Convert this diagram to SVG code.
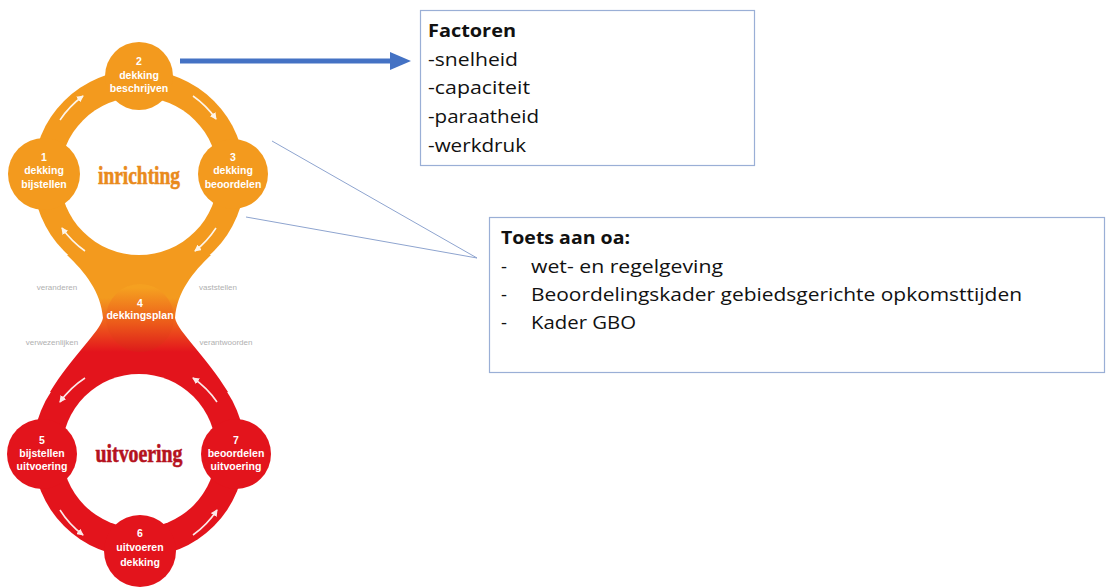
<svg xmlns="http://www.w3.org/2000/svg" width="1106" height="588" viewBox="0 0 1106 588">
<style>
.org{fill:#F39A1E}
.red{fill:#E3141C}
.nt{font-family:"Liberation Sans",Arial,sans-serif;font-weight:bold;font-size:10.5px;fill:#FFFFFF;text-anchor:middle}
.gl{font-family:"Liberation Sans",Arial,sans-serif;font-size:8px;fill:#B0B0B0;text-anchor:middle}
.big{font-family:"Liberation Serif","Times New Roman",serif;font-weight:bold;font-size:26px;text-anchor:middle;stroke-width:0.6}
.box{fill:#FFFFFF;stroke:#9AAFD6;stroke-width:1.2}
.bt{font-family:"Open Sans","Liberation Sans",sans-serif;font-size:18.5px;fill:#111111}
.bb{font-weight:bold}
.wa{fill:none;stroke:#FFFFFF;stroke-width:1.6;opacity:0.9;marker-end:url(#wh)}
.cl{stroke:#8EA4CF;stroke-width:1;fill:none}
</style>
<defs>
<marker id="wh" markerUnits="userSpaceOnUse" markerWidth="7" markerHeight="7" refX="6" refY="3.5" orient="auto">
<path d="M0,0 L7,3.5 L0,7 z" fill="#FFFFFF"/>
</marker>
<linearGradient id="grad" gradientUnits="userSpaceOnUse" x1="0" y1="298" x2="0" y2="352">
<stop offset="0" stop-color="#F39A1E"/>
<stop offset="0.5" stop-color="#EE5A1C"/>
<stop offset="1" stop-color="#E3141C"/>
</linearGradient>
<linearGradient id="grad4" gradientUnits="userSpaceOnUse" x1="0" y1="288" x2="0" y2="352">
<stop offset="0" stop-color="#F5A020"/>
<stop offset="0.55" stop-color="#EC5A1A"/>
<stop offset="1" stop-color="#DD1A1A"/>
</linearGradient>
</defs>

<g id="cycle-shape">
<circle class="org" cx="139" cy="176" r="106"/>
<circle class="red" cx="139" cy="451" r="106"/>
<path fill="url(#grad)" d="M67,255 C85,272 101,292 103,318 C100,332 72,356 50,392 L228,392 C206,356 178,332 175,318 C177,292 193,272 211,255 Z"/>
<circle fill="#FFFFFF" cx="139" cy="176" r="79"/>
<circle fill="#FFFFFF" cx="139" cy="451" r="77"/>
</g>

<g id="connectors">
<path class="wa" d="M60,120 A96 96 0 0 1 83,96"/>
<path class="wa" d="M193,96 A96 96 0 0 1 216,119"/>
<path class="wa" d="M216,228 A96 96 0 0 1 195,251"/>
<path class="wa" d="M85,251 A96 96 0 0 1 62,228"/>
<path class="wa" d="M85,378 A93 93 0 0 0 60,402"/>
<path class="wa" d="M217,402 A93 93 0 0 0 193,378"/>
<path class="wa" d="M60,510 A93 93 0 0 0 83,535"/>
<path class="wa" d="M193,535 A93 93 0 0 0 217,510"/>
<line x1="180" y1="61" x2="392" y2="61" stroke="#4472C4" stroke-width="5"/>
<polygon points="390,52 411,61 390,70" fill="#4472C4"/>
<line class="cl" x1="272" y1="141" x2="477" y2="258"/>
<line class="cl" x1="246" y1="217" x2="477" y2="258"/>
</g>

<g id="label-inrichting"><text class="big" x="139" y="184" fill="#E98A1C" stroke="#E98A1C" textLength="82" lengthAdjust="spacingAndGlyphs">inrichting</text></g>
<g id="label-uitvoering"><text class="big" x="139" y="462" fill="#B5121E" stroke="#B5121E" textLength="87" lengthAdjust="spacingAndGlyphs">uitvoering</text></g>

<g id="node1">
<circle class="org" cx="44" cy="174" r="36"/>
<text class="nt" x="44" y="161">1</text>
<text class="nt" x="44" y="174">dekking</text>
<text class="nt" x="44" y="188">bijstellen</text>
</g>
<g id="node2">
<circle class="org" cx="139" cy="76" r="34"/>
<text class="nt" x="139" y="65">2</text>
<text class="nt" x="139" y="79">dekking</text>
<text class="nt" x="139" y="92">beschrijven</text>
</g>
<g id="node3">
<circle class="org" cx="233" cy="174" r="35"/>
<text class="nt" x="233" y="161">3</text>
<text class="nt" x="233" y="174">dekking</text>
<text class="nt" x="233" y="188">beoordelen</text>
</g>
<g id="node4">
<circle fill="url(#grad4)" cx="140" cy="318" r="34"/>
<text class="nt" x="140" y="307">4</text>
<text class="nt" x="140" y="319">dekkingsplan</text>
</g>
<g id="node5">
<circle class="red" cx="42" cy="454" r="35"/>
<text class="nt" x="42" y="444">5</text>
<text class="nt" x="42" y="457">bijstellen</text>
<text class="nt" x="42" y="470">uitvoering</text>
</g>
<g id="node6">
<circle class="red" cx="140" cy="551" r="36"/>
<text class="nt" x="140" y="537">6</text>
<text class="nt" x="140" y="551">uitvoeren</text>
<text class="nt" x="140" y="566">dekking</text>
</g>
<g id="node7">
<circle class="red" cx="236" cy="454" r="35"/>
<text class="nt" x="236" y="444">7</text>
<text class="nt" x="236" y="457">beoordelen</text>
<text class="nt" x="236" y="470">uitvoering</text>
</g>

<g id="phase-labels">
<text class="gl" x="57" y="290">veranderen</text>
<text class="gl" x="218" y="290">vaststellen</text>
<text class="gl" x="52" y="345">verwezenlijken</text>
<text class="gl" x="226" y="345">verantwoorden</text>
</g>

<g id="factoren">
<rect class="box" x="420.5" y="10.5" width="334" height="155"/>
<text class="bt bb" x="428" y="37" textLength="88" lengthAdjust="spacingAndGlyphs">Factoren</text>
<text class="bt" x="428" y="66" textLength="90" lengthAdjust="spacingAndGlyphs">-snelheid</text>
<text class="bt" x="428" y="94" textLength="102" lengthAdjust="spacingAndGlyphs">-capaciteit</text>
<text class="bt" x="428" y="123" textLength="111" lengthAdjust="spacingAndGlyphs">-paraatheid</text>
<text class="bt" x="428" y="152" textLength="98" lengthAdjust="spacingAndGlyphs">-werkdruk</text>
</g>

<g id="toets">
<rect class="box" x="489.5" y="217.5" width="615" height="155"/>
<text class="bt bb" x="501" y="244" textLength="129" lengthAdjust="spacingAndGlyphs">Toets aan oa:</text>
<text class="bt" x="501" y="273">-</text>
<text class="bt" x="531" y="273" textLength="192" lengthAdjust="spacingAndGlyphs">wet- en regelgeving</text>
<text class="bt" x="501" y="301">-</text>
<text class="bt" x="531" y="301" textLength="491" lengthAdjust="spacingAndGlyphs">Beoordelingskader gebiedsgerichte opkomsttijden</text>
<text class="bt" x="501" y="329">-</text>
<text class="bt" x="531" y="329" textLength="105" lengthAdjust="spacingAndGlyphs">Kader GBO</text>
</g>
</svg>
